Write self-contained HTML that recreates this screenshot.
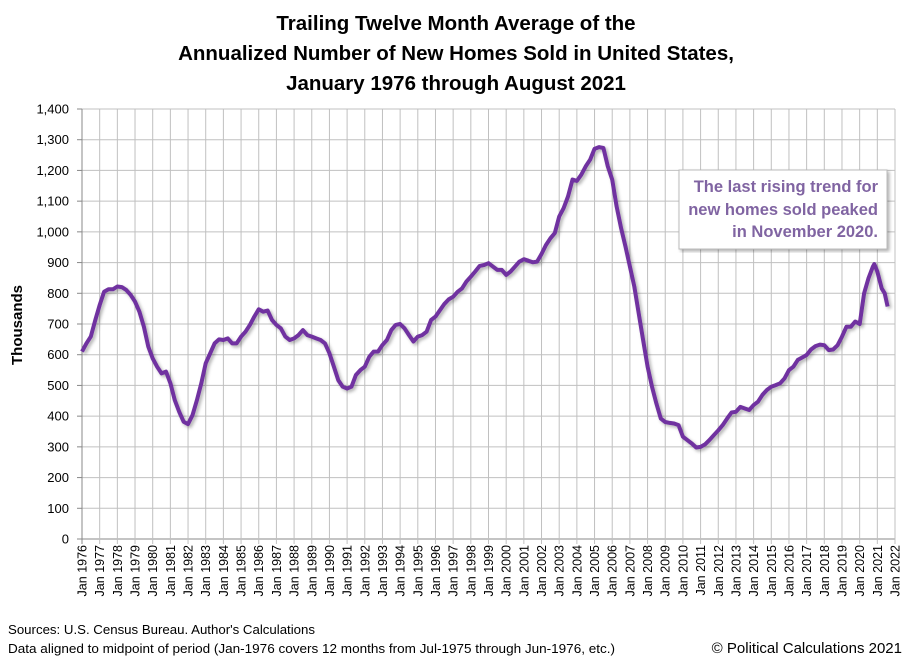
<!DOCTYPE html>
<html><head><meta charset="utf-8"><style>
body{margin:0;background:#fff;width:910px;height:661px;overflow:hidden;font-family:"Liberation Sans",sans-serif}
</style></head><body>
<svg id="chart" width="910" height="661" xmlns="http://www.w3.org/2000/svg" font-family="Liberation Sans, sans-serif">
<defs><filter id="sh" x="-5%" y="-5%" width="110%" height="110%"><feDropShadow dx="2" dy="2" stdDeviation="1.5" flood-color="#000" flood-opacity="0.3"/></filter></defs>
<g font-weight="bold" font-size="20.5" text-anchor="middle" fill="#000">
<text x="456" y="30">Trailing Twelve Month Average of the</text>
<text x="456" y="60">Annualized Number of New Homes Sold in United States,</text>
<text x="456" y="90">January 1976 through August 2021</text>
</g>
<g id="grid"></g>
<g id="yaxis"></g>
<g id="xaxis"></g>
<text transform="translate(22,325) rotate(-90)" text-anchor="middle" font-weight="bold" font-size="15">Thousands</text>
<path id="line" fill="none" stroke="#7030A0" stroke-width="4" stroke-linejoin="round" filter="url(#sh)"/>
<g>
<rect x="679" y="170" width="208" height="79" fill="#fff" stroke="#bbb" filter="url(#sh)"/>
<g font-weight="bold" font-size="16.5" fill="#8064A2" text-anchor="end">
<text x="878" y="192">The last rising trend for</text>
<text x="878" y="215">new homes sold peaked</text>
<text x="878" y="237">in November 2020.</text>
</g></g>
<text x="8" y="634" font-size="13.2" textLength="307" lengthAdjust="spacingAndGlyphs">Sources: U.S. Census Bureau. Author's Calculations</text>
<text x="8" y="653" font-size="13.2" textLength="607" lengthAdjust="spacingAndGlyphs">Data aligned to midpoint of period (Jan-1976 covers 12 months from Jul-1975 through Jun-1976, etc.)</text>
<text x="902" y="653" font-size="15" text-anchor="end">© Political Calculations 2021</text>
</svg>
<script>
const yTicks=[0,100,200,300,400,500,600,700,800,900,1000,1100,1200,1300,1400];
const quarterlyValues=[610,637,659,713,762,805,813,813,822,820,811,795,773,740,691,626,588,561,539,545,507,452,414,382,374,403,452,507,572,604,637,650,648,653,637,637,659,675,697,724,748,740,744,713,697,686,659,648,653,664,680,664,659,653,648,637,605,561,517,496,490,496,534,550,561,593,610,610,632,648,680,697,700,686,664,643,659,664,675,713,724,745,765,780,789,805,816,838,854,871,889,892,898,887,876,876,860,871,887,903,911,906,901,903,928,957,979,996,1050,1077,1115,1170,1166,1186,1213,1235,1270,1276,1273,1213,1170,1083,1012,952,887,822,735,648,561,496,441,392,381,378,376,371,333,322,311,298,300,308,322,338,354,371,392,412,414,430,425,420,436,447,469,485,496,501,507,523,550,561,583,591,599,617,628,633,631,615,617,631,659,691,691,708,700,800,849,887];
const tailDates=[2020.83,2021.0,2021.25,2021.42,2021.58];
const tailValues=[895,871,816,800,757];
const NS='http://www.w3.org/2000/svg';
const L=82,R=895,T=109,B=539,X0=1976,X1=2022;
const xs=d=>L+(d-X0)/(X1-X0)*(R-L);
const ys=v=>B-v/1400*(B-T);
const grid=document.getElementById('grid'),ya=document.getElementById('yaxis'),xa=document.getElementById('xaxis');
function mk(tag,attrs,parent){const e=document.createElementNS(NS,tag);for(const k in attrs)e.setAttribute(k,attrs[k]);parent.appendChild(e);return e;}
yTicks.forEach(v=>{
 const g=mk('line',{x1:L,x2:R,y1:ys(v),y2:ys(v),stroke:v===0?'#888':'#c0c0c0','stroke-width':1},grid);
 
 
 const t=mk('text',{x:L-13,y:ys(v)+4.5,'text-anchor':'end','font-size':13},ya);
 t.textContent=v.toLocaleString('en-US');
 
 
 mk('line',{x1:L-5,x2:L,y1:ys(v),y2:ys(v),stroke:'#888'},ya);
});
for(let y=X0;y<=X1;y++){
 const x=xs(y);
 const g=mk('line',{x1:x,x2:x,y1:T,y2:B+5,stroke:y===X0?'#888':'#c0c0c0','stroke-width':1},grid);
 
 
 const t=mk('text',{transform:`translate(${x+4.5},${B+6}) rotate(-90)`,'text-anchor':'end','font-size':12.5},xa);
 t.textContent='Jan '+y;
 
 
}
const pts=[];
quarterlyValues.forEach((v,i)=>pts.push([X0+i*0.25,v]));
tailDates.forEach((d,i)=>pts.push([d,tailValues[i]]));
document.getElementById('line').setAttribute('d',pts.map((p,i)=>(i?'L':'M')+xs(p[0]).toFixed(1)+','+ys(p[1]).toFixed(1)).join(''));
</script>
</body></html>
